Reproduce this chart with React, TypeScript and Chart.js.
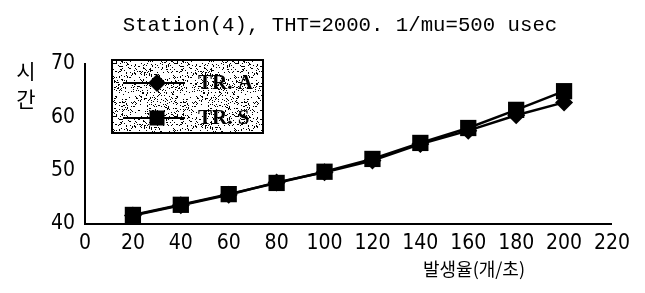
import { useEffect, useRef } from 'react';
import { Chart, registerables } from 'chart.js';

Chart.register(...registerables);

const titleText = 'Station(4), THT=2000. 1/mu=500 usec';
const yTitleChars = ['시', '간'];
const xTitleText = '발생율(개/초)';

const rates = [20, 40, 60, 80, 100, 120, 140, 160, 180, 200];
const seriesNames = ['TR. A', 'TR. S'];
const trA = [41.6, 43.5, 45.5, 47.8, 49.7, 51.9, 55.0, 57.5, 60.4, 62.8];
const trS = [41.7, 43.6, 45.6, 47.7, 49.8, 52.2, 55.2, 58.0, 61.4, 64.9];

const xMin = 0;
const xMax = 220;
const xStep = 20;
const yMin = 40;
const yMax = 70;
const yStep = 10;

const tickFont = '"Liberation Sans Narrow", "DejaVu Sans Condensed", "Liberation Sans", sans-serif';

function makeSpeckle(ctx: CanvasRenderingContext2D) {
  const c = document.createElement('canvas');
  c.width = 61;
  c.height = 53;
  const g = c.getContext('2d')!;
  const img = g.createImageData(c.width, c.height);
  for (let y = 0; y < c.height; y++) {
    for (let x = 0; x < c.width; x++) {
      let h = (x * 374761393 + y * 668265263) | 0;
      h = Math.imul(h ^ (h >>> 13), 1274126177);
      h = (h ^ (h >>> 16)) >>> 0;
      const dark = h % 100 < 15;
      const i = (y * c.width + x) * 4;
      const v = dark ? 0 : 255;
      img.data[i] = v;
      img.data[i + 1] = v;
      img.data[i + 2] = v;
      img.data[i + 3] = 255;
    }
  }
  g.putImageData(img, 0, 0);
  return ctx.createPattern(c, 'repeat');
}

const decor = {
  id: 'decor',
  afterDraw(chart: any) {
    const ctx: CanvasRenderingContext2D = chart.ctx;
    const area = chart.chartArea;
    ctx.save();
    ctx.fillStyle = '#000';

    // title
    ctx.font = '20.7px "Liberation Mono", "DejaVu Sans Mono", monospace';
    ctx.textAlign = 'center';
    ctx.textBaseline = 'middle';
    ctx.fillText(titleText, area.left + 255, area.top - 38);

    // y title (stacked)
    ctx.font = '21px "Noto Sans CJK KR", sans-serif';
    yTitleChars.forEach((ch, i) => {
      ctx.fillText(ch, area.left - 59, area.top + 7 + i * 28);
    });

    // x title
    ctx.font = '18px "Noto Sans CJK KR", sans-serif';
    ctx.fillText(xTitleText, area.left + 389, area.bottom + 45);

    // legend
    const bx = area.left + 27;
    const by = area.top - 4;
    const bw = 151;
    const bh = 73;
    const pat = makeSpeckle(ctx);
    ctx.fillStyle = pat || '#bbb';
    ctx.fillRect(bx, by, bw, bh);
    ctx.strokeStyle = '#000';
    ctx.lineWidth = 2;
    ctx.strokeRect(bx, by, bw, bh);

    chart.data.datasets.forEach((ds: any, i: number) => {
      const ry = by + 23 + i * 35;
      ctx.strokeStyle = '#000';
      ctx.lineWidth = 2;
      ctx.beginPath();
      ctx.moveTo(bx + 11, ry);
      ctx.lineTo(bx + 73, ry);
      ctx.stroke();
      ctx.fillStyle = '#000';
      const mx = bx + 45;
      ctx.beginPath();
      if (ds.pointStyle === 'rectRot') {
        const r = 9;
        ctx.moveTo(mx, ry - r);
        ctx.lineTo(mx + r, ry);
        ctx.lineTo(mx, ry + r);
        ctx.lineTo(mx - r, ry);
        ctx.closePath();
      } else {
        ctx.rect(mx - 7.5, ry - 7.5, 15, 15);
      }
      ctx.fill();
      ctx.font = 'bold 21px "Liberation Serif", "DejaVu Serif", serif';
      ctx.textAlign = 'left';
      ctx.textBaseline = 'middle';
      ctx.fillText(ds.label, bx + 86, ry + 1);
    });

    ctx.restore();
  },
};

export default function App() {
  const ref = useRef<HTMLCanvasElement | null>(null);

  useEffect(() => {
    if (!ref.current) return;
    const chart = new Chart(ref.current, {
      type: 'line',
      data: {
        datasets: [
          {
            label: seriesNames[0],
            data: rates.map((x, i) => ({ x, y: trA[i] })),
            borderColor: '#000',
            backgroundColor: '#000',
            borderWidth: 2.5,
            pointStyle: 'rectRot',
            pointRadius: 9,
            pointBorderWidth: 0,
            fill: false,
            tension: 0,
          },
          {
            label: seriesNames[1],
            data: rates.map((x, i) => ({ x, y: trS[i] })),
            borderColor: '#000',
            backgroundColor: '#000',
            borderWidth: 2.5,
            pointStyle: 'rect',
            pointRadius: 11.5,
            pointBorderWidth: 0,
            fill: false,
            tension: 0,
          },
        ],
      },
      options: {
        animation: false,
        responsive: true,
        maintainAspectRatio: false,
        layout: { padding: { left: 0, right: 24, top: 56, bottom: 0 } },
        plugins: {
          legend: { display: false },
          title: { display: false },
          tooltip: { enabled: false },
        },
        scales: {
          x: {
            type: 'linear',
            min: xMin,
            max: xMax,
            ticks: {
              stepSize: xStep,
              color: '#000',
              padding: 7,
              maxRotation: 0,
              autoSkip: false,
              font: { family: tickFont, size: 21 },
            },
            grid: { display: false, drawTicks: false },
            border: { display: true, color: '#000', width: 2 },
            afterFit: (s: any) => {
              s.height = 61;
            },
          },
          y: {
            min: yMin,
            max: yMax,
            ticks: {
              stepSize: yStep,
              color: '#000',
              padding: 10,
              font: { family: tickFont, size: 21 },
            },
            grid: { display: false, drawTicks: false },
            border: { display: true, color: '#000', width: 2 },
            afterFit: (s: any) => {
              s.width = 77;
            },
          },
        },
      },
      plugins: [decor],
    });
    return () => chart.destroy();
  }, []);

  return (
    <div style={{ position: 'relative', width: 629, height: 277 }}>
      <canvas ref={ref} />
    </div>
  );
}
